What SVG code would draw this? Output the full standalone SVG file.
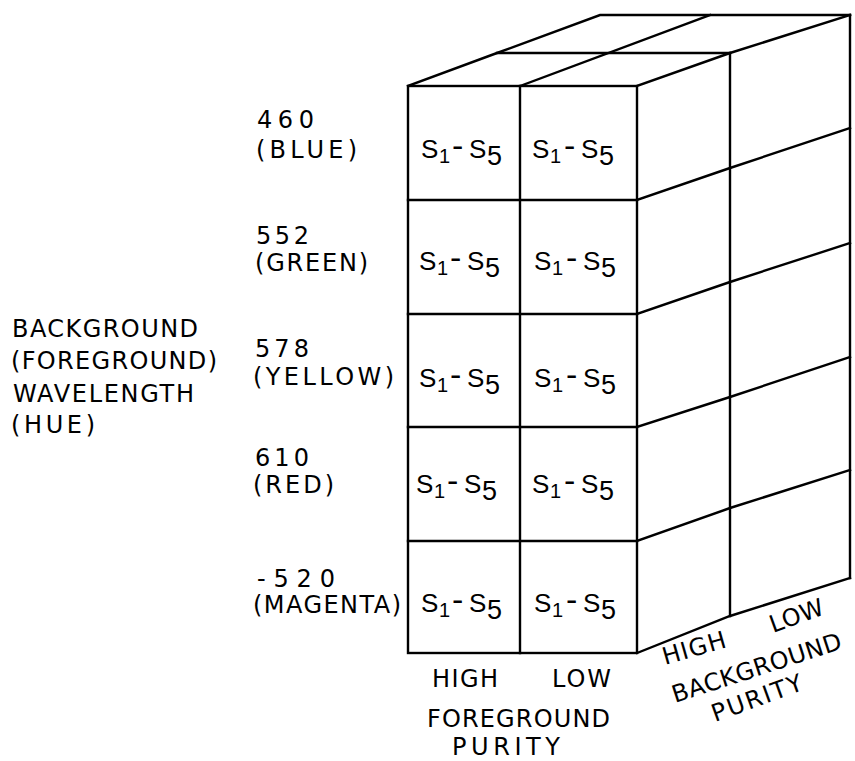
<svg xmlns="http://www.w3.org/2000/svg" width="855" height="761" viewBox="0 0 855 761">
<style>
  .ln{fill:none;stroke:#000;stroke-width:2.4;stroke-linejoin:miter;stroke-linecap:square}
  text{fill:#000}
  .lbl{font-family:"DejaVu Sans","Liberation Sans",sans-serif;font-size:24px}
  .c{font-family:"Liberation Sans",Arial,sans-serif;font-size:26px}
  .s1{font-size:20px}
  .d{font-size:34px}
  .s5{font-size:27px}
</style>
<rect width="855" height="761" fill="#fff"/>
<g id="frame" class="ln">
  <rect x="408" y="86" width="229" height="567"/>
  <line x1="520" y1="86" x2="520" y2="653"/>
  <line x1="408" y1="200" x2="637" y2="200"/>
  <line x1="408" y1="314" x2="637" y2="314"/>
  <line x1="408" y1="427" x2="637" y2="427"/>
  <line x1="408" y1="541" x2="637" y2="541"/>
  <polyline points="408,86 497,53 600,15 850,15"/>
  <line x1="520" y1="86" x2="710" y2="15"/>
  <line x1="497" y1="53" x2="730" y2="53"/>
  <polyline points="637,86 730,53 850,15"/>
  <line x1="730" y1="53" x2="730" y2="616"/>
  <line x1="850" y1="15" x2="850" y2="578"/>
  <polyline points="637,200 730,168 850,128"/>
  <polyline points="637,314 730,282 850,243"/>
  <polyline points="637,427 730,397 850,357"/>
  <polyline points="637,541 730,508 850,470"/>
  <polyline points="637,653 730,616 850,578"/>
</g>
<g id="cells">
  <g id="cell-1-high"><text class="c"><tspan x="421" y="158">S</tspan><tspan class="s1" x="439" y="163">1</tspan><tspan class="d" x="452" y="157">-</tspan><tspan x="469" y="158">S</tspan><tspan class="s5" x="487" y="165">5</tspan></text></g>
  <g id="cell-1-low"><text class="c"><tspan x="532" y="158">S</tspan><tspan class="s1" x="550" y="163">1</tspan><tspan class="d" x="564" y="157">-</tspan><tspan x="581" y="158">S</tspan><tspan class="s5" x="599" y="165">5</tspan></text></g>
  <g id="cell-2-high"><text class="c"><tspan x="419" y="270">S</tspan><tspan class="s1" x="437" y="275">1</tspan><tspan class="d" x="450" y="269">-</tspan><tspan x="467" y="270">S</tspan><tspan class="s5" x="485" y="277">5</tspan></text></g>
  <g id="cell-2-low"><text class="c"><tspan x="534" y="270">S</tspan><tspan class="s1" x="552" y="275">1</tspan><tspan class="d" x="566" y="269">-</tspan><tspan x="583" y="270">S</tspan><tspan class="s5" x="601" y="277">5</tspan></text></g>
  <g id="cell-3-high"><text class="c"><tspan x="419" y="387">S</tspan><tspan class="s1" x="437" y="392">1</tspan><tspan class="d" x="450" y="386">-</tspan><tspan x="467" y="387">S</tspan><tspan class="s5" x="485" y="394">5</tspan></text></g>
  <g id="cell-3-low"><text class="c"><tspan x="534" y="387">S</tspan><tspan class="s1" x="552" y="392">1</tspan><tspan class="d" x="566" y="386">-</tspan><tspan x="583" y="387">S</tspan><tspan class="s5" x="601" y="394">5</tspan></text></g>
  <g id="cell-4-high"><text class="c"><tspan x="416" y="493">S</tspan><tspan class="s1" x="434" y="498">1</tspan><tspan class="d" x="447" y="492">-</tspan><tspan x="464" y="493">S</tspan><tspan class="s5" x="482" y="500">5</tspan></text></g>
  <g id="cell-4-low"><text class="c"><tspan x="532" y="493">S</tspan><tspan class="s1" x="550" y="498">1</tspan><tspan class="d" x="564" y="492">-</tspan><tspan x="581" y="493">S</tspan><tspan class="s5" x="599" y="500">5</tspan></text></g>
  <g id="cell-5-high"><text class="c"><tspan x="421" y="612">S</tspan><tspan class="s1" x="439" y="617">1</tspan><tspan class="d" x="452" y="611">-</tspan><tspan x="469" y="612">S</tspan><tspan class="s5" x="487" y="619">5</tspan></text></g>
  <g id="cell-5-low"><text class="c"><tspan x="534" y="612">S</tspan><tspan class="s1" x="552" y="617">1</tspan><tspan class="d" x="566" y="611">-</tspan><tspan x="583" y="612">S</tspan><tspan class="s5" x="601" y="619">5</tspan></text></g>
</g>
<g id="row-labels" class="lbl">
  <text x="257" y="128" textLength="57" lengthAdjust="spacing">460</text>
  <text x="256" y="158" textLength="101" lengthAdjust="spacing">(BLUE)</text>
  <text x="256" y="244" textLength="53" lengthAdjust="spacing">552</text>
  <text x="255" y="271" textLength="113" lengthAdjust="spacing">(GREEN)</text>
  <text x="255" y="357" textLength="54" lengthAdjust="spacing">578</text>
  <text x="253" y="385" textLength="141" lengthAdjust="spacing">(YELLOW)</text>
  <text x="255" y="466" textLength="54" lengthAdjust="spacing">610</text>
  <text x="253" y="493" textLength="81" lengthAdjust="spacing">(RED)</text>
  <text x="257" y="587" textLength="78" lengthAdjust="spacing">-520</text>
  <text x="253" y="613" textLength="148" lengthAdjust="spacing">(MAGENTA)</text>
</g>
<g id="axis-hue" class="lbl">
  <text x="12" y="337" textLength="186" lengthAdjust="spacing">BACKGROUND</text>
  <text x="11" y="369" textLength="206" lengthAdjust="spacing">(FOREGROUND)</text>
  <text x="13" y="402" textLength="181" lengthAdjust="spacing">WAVELENGTH</text>
  <text x="11" y="433" textLength="84" lengthAdjust="spacing">(HUE)</text>
</g>
<g id="axis-foreground" class="lbl">
  <text x="432" y="687" textLength="66" lengthAdjust="spacing">HIGH</text>
  <text x="552" y="687" textLength="59" lengthAdjust="spacing">LOW</text>
  <text x="427" y="727" textLength="183" lengthAdjust="spacing">FOREGROUND</text>
  <text x="452" y="755" textLength="108" lengthAdjust="spacing">PURITY</text>
</g>
<g id="axis-background" class="lbl">
  <text transform="translate(665,665) rotate(-16)" textLength="65" lengthAdjust="spacing">HIGH</text>
  <text transform="translate(773,633) rotate(-20)" textLength="56" lengthAdjust="spacing">LOW</text>
  <text transform="translate(675,703) rotate(-18)" textLength="177" lengthAdjust="spacing">BACKGROUND</text>
  <text transform="translate(715,722) rotate(-20)" textLength="95" lengthAdjust="spacing">PURITY</text>
</g>
</svg>
